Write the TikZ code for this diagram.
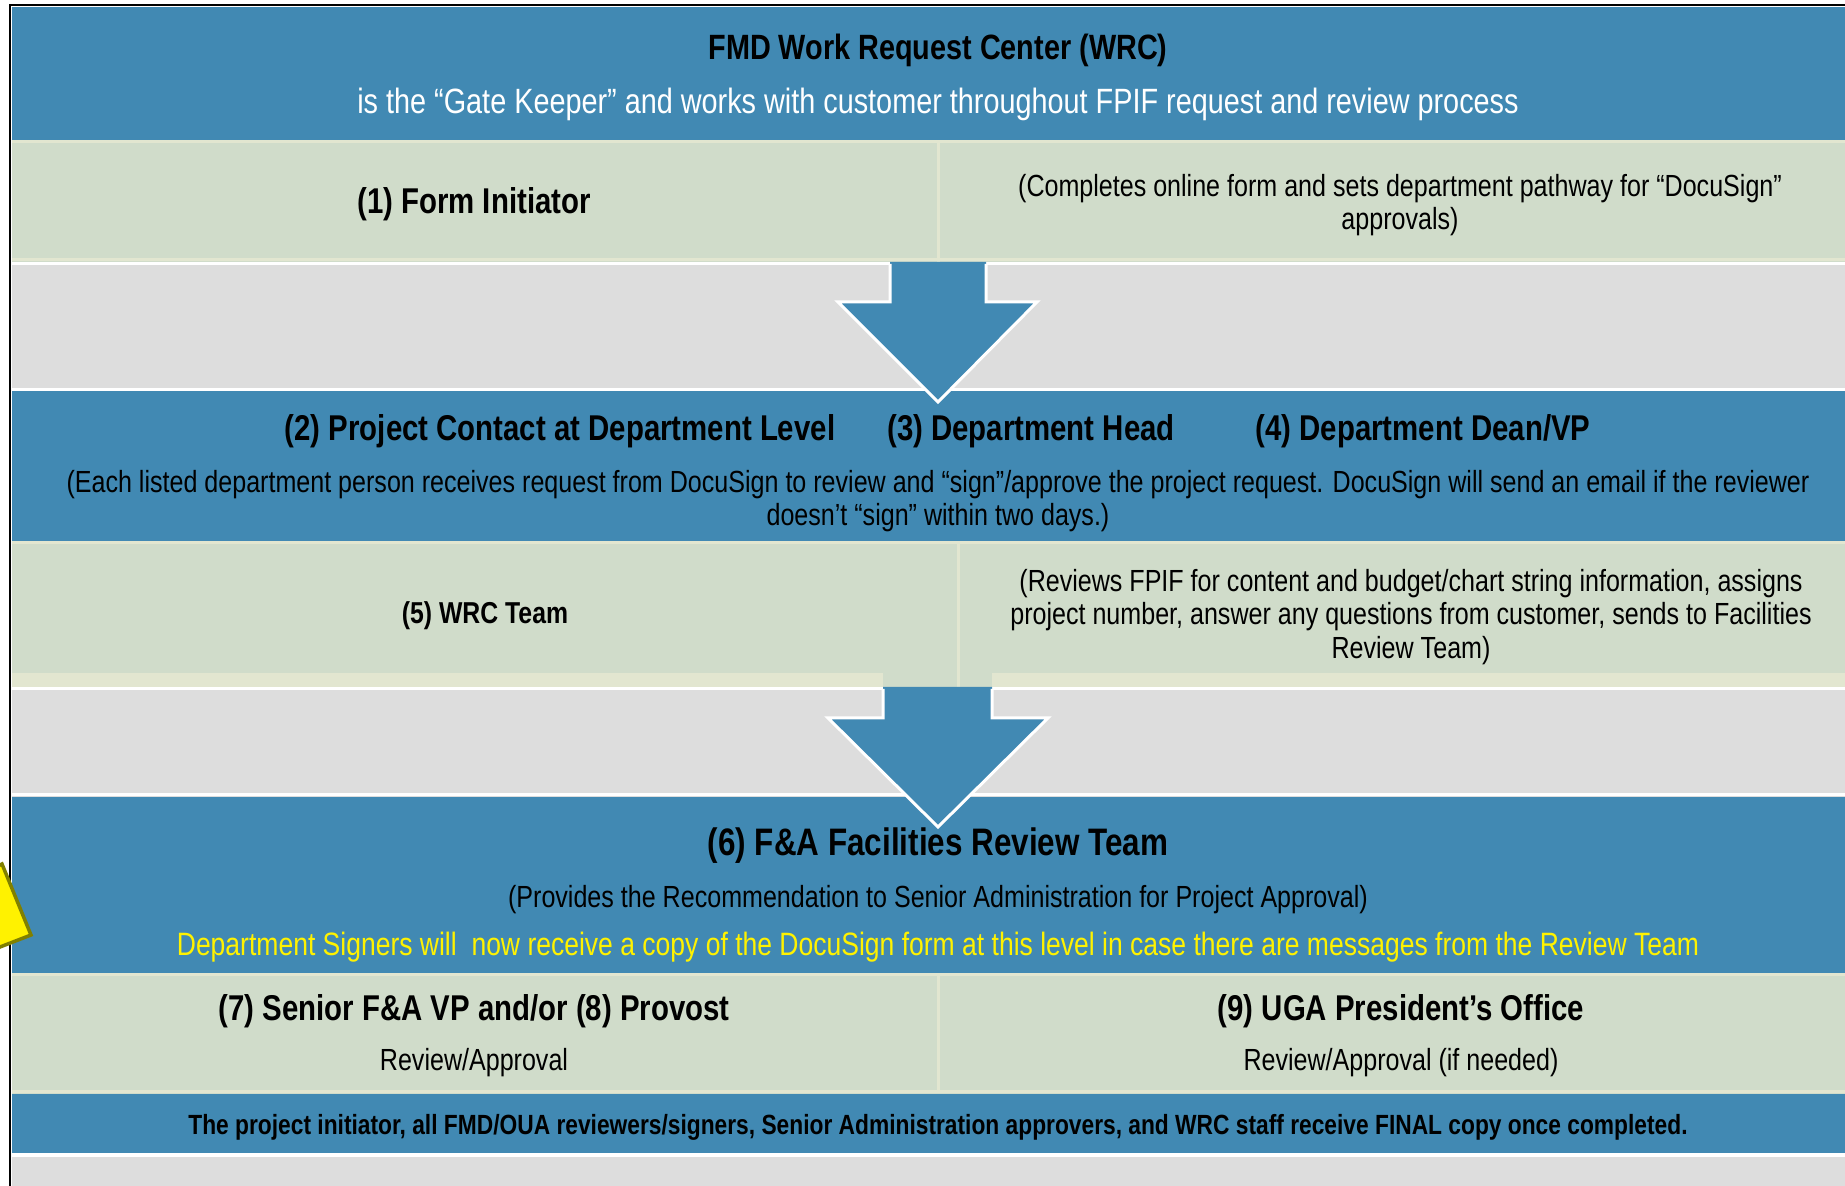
\documentclass[tikz,border=0pt]{standalone}
\usepackage{fontspec}
\setmainfont{Liberation Sans}[FakeStretch=0.82]
\usetikzlibrary{positioning}
\definecolor{wrcblue}{RGB}{65,137,179}
\definecolor{sage}{RGB}{208,220,202}
\definecolor{palesage}{RGB}{226,230,208}
\definecolor{bandgray}{RGB}{221,221,221}
\definecolor{arrowolive}{RGB}{128,128,0}
\tikzstyle{head} = [font=\fontsize{10.2}{12}\selectfont\bfseries, text=black]
\tikzstyle{note} = [font=\fontsize{8.7}{9.5}\selectfont, align=center, text=black]
\tikzstyle{cellline} = [palesage, line width=0.3mm]
\tikzstyle{downarrow} = [fill=wrcblue]
\tikzstyle{arrowrim} = [white, line width=0.3mm, line join=miter]
\begin{document}
\begin{tikzpicture}[x=0.1mm,y=-0.1mm]
\useasboundingbox (0,0) rectangle (1845,1186);
\clip (0,0) rectangle (1845,1186);
% background and frame
\fill[bandgray] (12,7) rectangle (1845,1186);
\draw[black, line width=0.2mm] (10,1190) -- (10,5) -- (1850,5);
% bands
\fill[wrcblue] (12,7) rectangle (1845,141);
\fill[sage] (12,141) rectangle (1845,262);
\draw[cellline] (12,142) -- (1845,142);
\draw[cellline] (12,260) -- (1845,260);
\draw[cellline] (938,142) -- (938,262);
\draw[white, line width=0.3mm] (12,263.5) -- (1845,263.5);
\draw[white, line width=0.3mm] (12,389.5) -- (1845,389.5);
\fill[wrcblue] (12,391) rectangle (1845,542);
\fill[sage] (12,542) rectangle (1845,687);
\fill[palesage] (12,673) rectangle (883,687);
\fill[palesage] (992,673) rectangle (1845,687);
\draw[cellline] (12,543) -- (1845,543);
\draw[cellline] (958,543) -- (958,687);
\draw[white, line width=0.3mm] (12,689) -- (883,689);
\draw[white, line width=0.3mm] (992,689) -- (1845,689);
\draw[white, line width=0.3mm] (12,795) -- (1845,795);
\fill[wrcblue] (12,797) rectangle (1845,973);
\fill[sage] (12,973) rectangle (1845,1094);
\draw[cellline] (12,974.5) -- (1845,974.5);
\draw[cellline] (12,1092) -- (1845,1092);
\draw[cellline] (938,974) -- (938,1092);
\fill[wrcblue] (12,1094) rectangle (1845,1153);
\draw[white, line width=0.4mm] (12,1155) -- (1845,1155);
% block arrows
\fill[downarrow] (890,262) -- (986,262) -- (986,302) -- (1037,302) -- (938,402) -- (838,302) -- (890,302) -- cycle;
\draw[arrowrim] (890,264) -- (890,302) -- (838,302) -- (938,402) -- (1037,302) -- (986,302) -- (986,264);
\fill[downarrow] (883,687) -- (992,687) -- (992,718) -- (1048,718) -- (938,827) -- (828,718) -- (883,718) -- cycle;
\draw[arrowrim] (883,689) -- (883,718) -- (828,718) -- (938,827) -- (1048,718) -- (992,718) -- (992,689);
% yellow pointer at the left edge
\filldraw[fill=yellow, draw=arrowolive, line width=0.35mm, line join=miter]
  (31,935) -- (2,864) -- (-30,880) -- (-30,960) -- (0,947) -- cycle;
% texts
\node[head, font=\fontsize{10}{12}\selectfont\bfseries] (title) at (938,50) {FMD Work Request Center (WRC)};
\node[font=\fontsize{10}{12}\selectfont, text=white] (gatekeeper) at (938,104) {is the “Gate Keeper” and works with customer throughout FPIF request and review process};
\node[head] (initiator) at (474,204) {(1) Form Initiator};
\node[note] (initnote) at (1400,205) {(Completes online form and sets department pathway for “DocuSign”\\approvals)};
\node[head] (contact) at (560,431) {(2) Project Contact at Department Level};
\node[head] (depthead) at (1031,431) {(3) Department Head};
\node[head] (deptdean) at (1423,431) {(4) Department Dean/VP};
\node[note] (deptnote) at (938,501) {(Each listed department person receives request from DocuSign to review and “sign”/approve the project request. DocuSign will send an email if the reviewer\\doesn’t “sign” within two days.)};
\node[head, font=\fontsize{8.6}{10}\selectfont\bfseries] (wrcteam) at (485,616) {(5) WRC Team};
\node[note] (wrcnote) at (1411,617) {(Reviews FPIF for content and budget/chart string information, assigns\\project number, answer any questions from customer, sends to Facilities\\Review Team)};
\node[head, font=\fontsize{10.9}{12}\selectfont\bfseries] (review) at (938,846) {(6) F\&A Facilities Review Team};
\node[note] (reviewnote) at (938,900) {(Provides the Recommendation to Senior Administration for Project Approval)};
\node[note, text=yellow, font=\fontsize{9.2}{11}\selectfont] (signers) at (938,947) {Department Signers will \ now receive a copy of the DocuSign form at this level in case there are messages from the Review Team};
\node[head] (provost) at (474,1011) {(7) Senior F\&A VP and/or (8) Provost};
\node[note] (provostnote) at (474,1063) {Review/Approval};
\node[head] (president) at (1401,1011) {(9) UGA President’s Office};
\node[note] (presidentnote) at (1401,1063) {Review/Approval (if needed)};
\node[head, font=\fontsize{7.9}{10}\selectfont\bfseries] (final) at (938,1127) {The project initiator, all FMD/OUA reviewers/signers, Senior Administration approvers, and WRC staff receive FINAL copy once completed.};
\end{tikzpicture}
\end{document}
